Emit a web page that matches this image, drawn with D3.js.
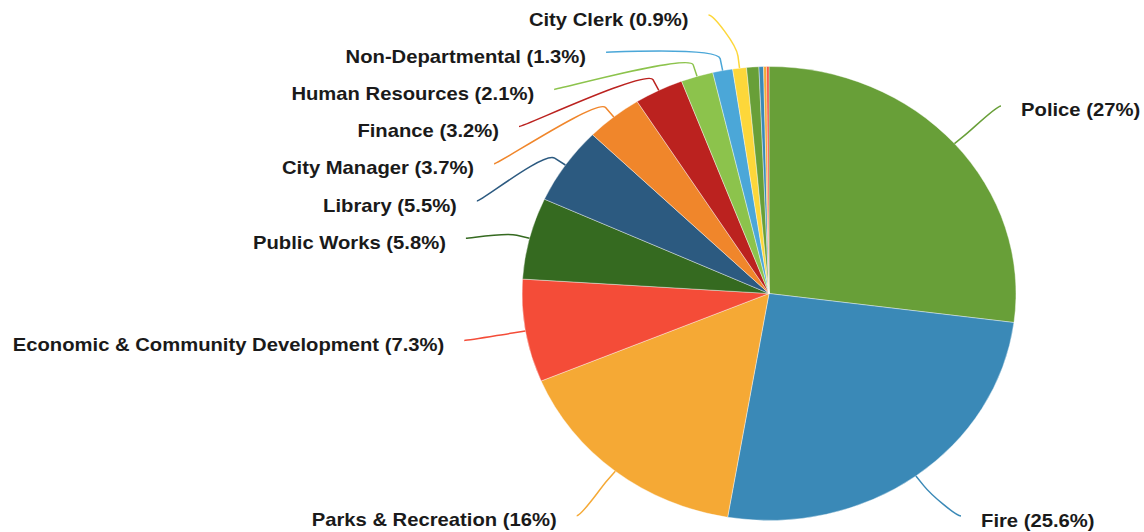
<!DOCTYPE html>
<html>
<head>
<meta charset="utf-8">
<script src="https://cdn.jsdelivr.net/npm/d3@7"></script>
<style>
  body { margin: 0; background: #fff; }
  svg { display: block; }
</style>
</head>
<body>
<div id="chart"></div>
<script>
// data: department share of the budget, clockwise from 12 o'clock
const departments = ["Police", "Fire", "Parks & Recreation", "Economic & Community Development",
  "Public Works", "Library", "City Manager", "Finance", "Human Resources", "Non-Departmental", "City Clerk"];
const shares = [27, 25.6, 16, 7.3, 5.8, 5.5, 3.7, 3.2, 2.1, 1.3, 0.9];
// small unlabeled slivers at the end of the pie
const minorShares = [0.8, 0.3, 0.2, 0.15];

const palette = ["#689f38", "#3a89b7", "#f5a935", "#f44c38", "#356a20", "#2c5a80",
  "#f0862b", "#bb221f", "#8cc34c", "#4ba7d8", "#fdd73a"];

const width = 1144, height = 532;
const cx = 769, cy = 293.5;
const R = 227;          // pie radius (vertical)
const sx = 1.088;       // horizontal stretch of the picture
const labelR = 284;     // radius of the label ring
const breakR = R + 12;  // where the connector bends
const spacing = 37.2, topY = 15, bottomY = 516;

const data = departments.map((d, i) => ({ name: d, value: shares[i], label: true }))
  .concat(minorShares.map((v, i) => ({ name: "minor" + i, value: v, label: false })));

const svg = d3.select("#chart").append("svg")
  .attr("width", width).attr("height", height);

const pie = d3.pie().sort(null).value(d => d.value);
const arcs = pie(data);
const arc = d3.arc().innerRadius(0).outerRadius(R);

const color = (d, i) => palette[i % palette.length];

// slices
svg.append("g")
  .attr("transform", `translate(${cx},${cy}) scale(${sx},1)`)
  .selectAll("path")
  .data(arcs)
  .join("path")
  .attr("d", arc)
  .attr("fill", (d, i) => color(d, i))
  .attr("stroke", "#fff")
  .attr("stroke-width", 0.4)
  .attr("vector-effect", "non-scaling-stroke");

// label layout
const labels = arcs.map((a, i) => {
  const mid = (a.startAngle + a.endAngle) / 2;
  return {
    a, i, mid,
    side: mid > Math.PI ? -1 : 1,
    y: cy - labelR * Math.cos(mid)
  };
}).filter(d => d.a.data.label);

[-1, 1].forEach(side => {
  const group = labels.filter(d => d.side === side).sort((p, q) => p.y - q.y);
  let prev = -Infinity;
  group.forEach(d => {
    d.y = Math.max(d.y, prev + spacing, topY);
    prev = d.y;
  });
  let next = Infinity;
  for (let k = group.length - 1; k >= 0; k--) {
    group[k].y = Math.min(group[k].y, next - spacing, bottomY);
    next = group[k].y;
  }
});

labels.forEach(d => {
  const t = Math.max(-1, Math.min(1, (d.y - cy) / labelR));
  d.x = cx + d.side * sx * labelR * Math.sqrt(1 - t * t);
  d.ex = cx + sx * R * Math.sin(d.mid);
  d.ey = cy - R * Math.cos(d.mid);
  d.bx = cx + sx * breakR * Math.sin(d.mid);
  d.by = cy - breakR * Math.cos(d.mid);
});

// connectors
svg.append("g")
  .selectAll("path")
  .data(labels)
  .join("path")
  .attr("d", d => {
    const c1x = d.x - d.side * 5;
    const c2x = 2 * d.bx - d.ex, c2y = 2 * d.by - d.ey;
    return `M${d.x},${d.y}C${c1x},${d.y} ${c2x},${c2y} ${d.bx},${d.by}L${d.ex},${d.ey}`;
  })
  .attr("fill", "none")
  .attr("stroke", d => color(d, d.i))
  .attr("stroke-width", 1.5);

// label texts
svg.append("g")
  .selectAll("text")
  .data(labels)
  .join("text")
  .attr("transform", d => `translate(${d.x + d.side * 20},${d.y + 4}) scale(${sx},1)`)
  .attr("text-anchor", d => d.side < 0 ? "end" : "start")
  .attr("dy", "0.35em")
  .attr("font-family", "'Liberation Sans', Arial, sans-serif")
  .attr("font-weight", "bold")
  .attr("font-size", "18.6px")
  .attr("fill", "#1a1a1a")
  .text(d => `${d.a.data.name} (${d.a.data.value}%)`);
</script>
</body>
</html>
